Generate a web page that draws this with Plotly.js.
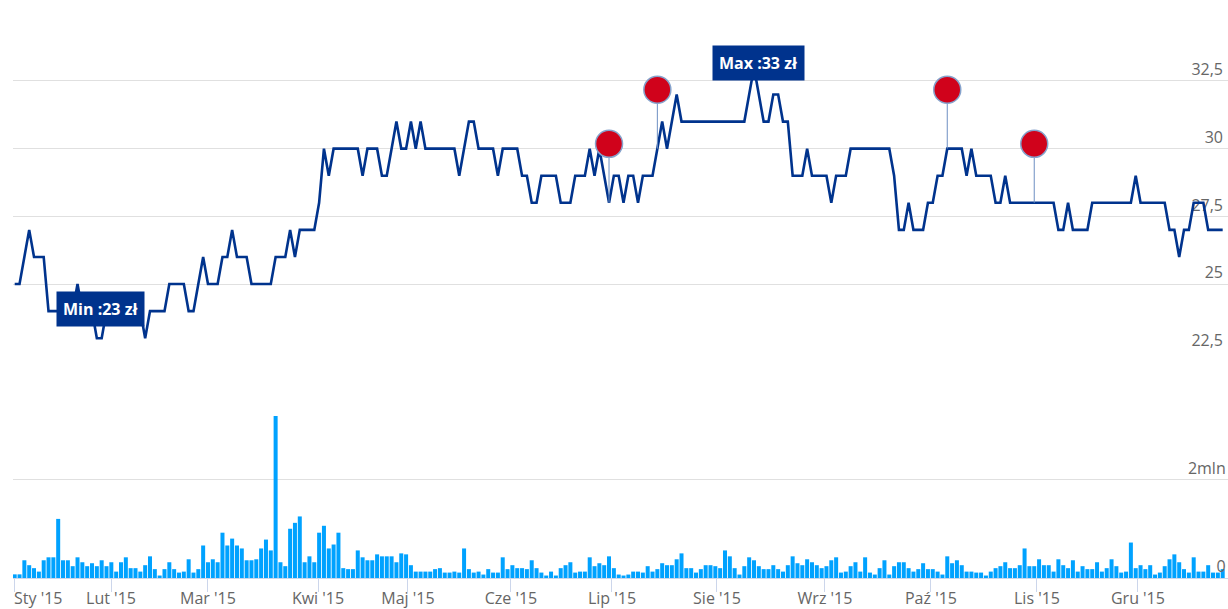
<!DOCTYPE html>
<html>
<head>
<meta charset="utf-8">
<script src="https://cdn.plot.ly/plotly-3.0.1.min.js"></script>
<style>
html,body{margin:0;padding:0;background:#fff;}
#chart{width:1228px;height:609px;}
</style>
</head>
<body>
<div id="chart"></div>
<script>
// ---- data (one value per trading day of 2015, in order) ----
const monthLabels = ["Sty '15","Lut '15","Mar '15","Kwi '15","Maj '15","Cze '15","Lip '15","Sie '15","Wrz '15","Paź '15","Lis '15","Gru '15"];
const monthTickPos = [0.06, 19.93, 40.0, 62.77, 81.38, 102.71, 123.61, 145.34, 167.69, 189.63, 211.57, 232.46];

const price = [
  25,25,26,27,26,26,26,24,24,24,
  24,24,24,25,24,24,24,23,23,24,
  24,24,24,24,24,24,24,23,24,24,
  24,24,25,25,25,25,24,24,25,26,
  25,25,25,26,26,27,26,26,26,25,
  25,25,25,25,26,26,26,27,26,27,
  27,27,27,28,30,29,30,30,30,30,
  30,30,29,30,30,30,29,29,30,31,
  30,30,31,30,31,30,30,30,30,30,
  30,30,29,30,31,31,30,30,30,30,
  29,30,30,30,30,29,29,28,28,29,
  29,29,29,28,28,28,29,29,29,30,
  29,30,29,28,29,29,28,29,29,28,
  29,29,29,30,31,30,31,32,31,31,
  31,31,31,31,31,31,31,31,31,31,
  31,31,32,33,32,31,31,32,32,31,
  31,29,29,29,30,29,29,29,29,28,
  29,29,29,30,30,30,30,30,30,30,
  30,30,29,27,27,28,27,27,27,28,
  28,29,29,30,30,30,30,29,30,29,
  29,29,29,28,28,29,28,28,28,28,
  28,28,28,28,28,28,27,27,28,27,
  27,27,27,28,28,28,28,28,28,28,
  28,28,29,28,28,28,28,28,28,27,
  27,26,27,27,28,28,28,27,27,27,
  27
];

// volume in millions of shares
const volumeMln = [
  0.074,0.074,0.36,0.26,0.2,0.13,0.36,0.42,0.42,1.2,
  0.36,0.36,0.24,0.42,0.32,0.24,0.3,0.24,0.36,0.24,
  0.32,0.13,0.32,0.42,0.2,0.2,0.13,0.26,0.44,0.18,
  0.05,0.18,0.32,0.18,0.11,0.13,0.38,0.11,0.18,0.66,
  0.32,0.38,0.32,0.92,0.66,0.8,0.66,0.6,0.36,0.36,
  0.38,0.6,0.78,0.56,3.29,0.32,0.24,1.0,1.12,1.25,
  0.32,0.44,0.32,0.92,1.06,0.6,0.68,0.92,0.2,0.18,
  0.18,0.56,0.42,0.36,0.36,0.48,0.44,0.44,0.44,0.32,
  0.5,0.48,0.26,0.13,0.13,0.13,0.13,0.18,0.2,0.11,
  0.11,0.13,0.11,0.6,0.18,0.11,0.13,0.07,0.18,0.11,
  0.11,0.42,0.18,0.26,0.2,0.2,0.18,0.36,0.2,0.11,
  0.05,0.13,0.05,0.2,0.26,0.32,0.11,0.13,0.13,0.42,
  0.24,0.3,0.26,0.44,0.2,0.07,0.05,0.07,0.13,0.13,
  0.11,0.24,0.13,0.18,0.3,0.26,0.26,0.38,0.5,0.2,
  0.2,0.11,0.18,0.26,0.26,0.24,0.2,0.56,0.44,0.2,
  0.07,0.24,0.42,0.36,0.24,0.18,0.18,0.26,0.18,0.13,
  0.26,0.44,0.3,0.26,0.38,0.32,0.26,0.2,0.24,0.36,
  0.42,0.11,0.13,0.24,0.32,0.13,0.42,0.11,0.07,0.2,
  0.36,0.07,0.24,0.32,0.32,0.2,0.13,0.18,0.3,0.18,
  0.18,0.13,0.07,0.44,0.3,0.36,0.26,0.13,0.13,0.11,
  0.11,0.05,0.13,0.2,0.24,0.32,0.2,0.2,0.26,0.6,
  0.24,0.24,0.38,0.26,0.26,0.13,0.38,0.26,0.2,0.36,
  0.13,0.24,0.18,0.18,0.32,0.13,0.2,0.38,0.24,0.11,
  0.13,0.72,0.2,0.26,0.18,0.26,0.07,0.11,0.24,0.38,
  0.48,0.32,0.18,0.11,0.42,0.13,0.13,0.26,0.11,0.11,
  0.18
];

const flagIdx = [123, 133, 193, 211];

const priceTicks = [22.5, 25, 27.5, 30, 32.5, 35];
const volumeTicks = [0, 2, 4];
const volumeTickText = ['0', '2mln', ''];

// ---- layout constants ----
const W = 1228, H = 609;
const M = {l: 13, r: 0, t: 13, b: 31};
const plotH = H - M.t - M.b;
const priceDomain = [0.4, 1];
const volDomain = [0, 198 / plotH];
const priceRange = [22.49, 35.01];
const volRange = [0, 4.02];
const xRange = [-0.352, 251.1];

const LINE = '#00338d';
const BAR = '#00a2ff';
const GRID = '#e0e0e0';
const LABEL = '#666666';
const FONT = 'Open Sans, Noto Sans, sans-serif';
const TICK_SIZE = 16;

const idx = price.map((_, i) => i);
const plPrice = v => String(v).replace('.', ',');

const pxPerPrice = (priceDomain[1] - priceDomain[0]) * plotH / (priceRange[1] - priceRange[0]);
const flagLift = 59 / pxPerPrice;

const stemX = [], stemY = [];
flagIdx.forEach(i => { stemX.push(i, i, null); stemY.push(price[i], price[i] + flagLift, null); });

const minVal = Math.min(...price), maxVal = Math.max(...price);
const minI = price.indexOf(minVal), maxI = price.indexOf(maxVal);

const traces = [
  {type: 'bar', x: idx, y: volumeMln, xaxis: 'x', yaxis: 'y2',
   marker: {color: BAR, line: {width: 0}}, hoverinfo: 'skip'},
  {type: 'scatter', mode: 'lines', x: idx, y: price, xaxis: 'x', yaxis: 'y',
   line: {color: LINE, width: 2.6}, hoverinfo: 'skip'},
  {type: 'scatter', mode: 'lines', x: stemX, y: stemY, xaxis: 'x', yaxis: 'y',
   line: {color: '#6d8fc2', width: 1}, hoverinfo: 'skip', connectgaps: false},
  {type: 'scatter', mode: 'markers', x: flagIdx, y: flagIdx.map(i => price[i] + flagLift),
   xaxis: 'x', yaxis: 'y', cliponaxis: false,
   marker: {size: 27, color: '#d0021b', line: {color: '#86a3cc', width: 1.5}}, hoverinfo: 'skip'}
];

const boxFont = {family: FONT, size: 16, color: '#ffffff', weight: 700};
const tickFont = {family: FONT, size: TICK_SIZE, color: LABEL};

const layout = {
  width: W, height: H,
  margin: M,
  paper_bgcolor: '#ffffff', plot_bgcolor: '#ffffff',
  showlegend: false,
  hovermode: false,
  bargap: 0.17,
  font: {family: FONT, size: TICK_SIZE, color: LABEL},
  xaxis: {
    range: xRange, anchor: 'y2', showgrid: false, zeroline: false,
    showline: true, linecolor: '#ccd6eb', linewidth: 1,
    ticks: 'outside', ticklen: 13, tickcolor: '#ccd6eb', tickwidth: 1,
    tickmode: 'array', tickvals: monthTickPos,
    ticktext: monthLabels.map((t, k) => k === 0 ? '' : t),
    ticklabelstandoff: -7,
    tickfont: tickFont,
    fixedrange: true
  },
  yaxis: {
    domain: priceDomain, range: priceRange, anchor: 'x', side: 'right',
    tickmode: 'array', tickvals: priceTicks,
    ticktext: priceTicks.map((v, k) => k === priceTicks.length - 1 ? '' : plPrice(v)),
    ticklabelposition: 'inside top', ticks: '', ticklabelstandoff: 2,
    showgrid: true, gridcolor: GRID, gridwidth: 1, zeroline: false, showline: false,
    tickfont: tickFont,
    layer: 'below traces', fixedrange: true
  },
  yaxis2: {
    domain: volDomain, range: volRange, anchor: 'x', side: 'right',
    tickmode: 'array', tickvals: volumeTicks, ticktext: volumeTickText,
    ticklabelposition: 'inside top', ticks: '', ticklabelstandoff: 2,
    showgrid: true, gridcolor: GRID, gridwidth: 1, zeroline: false,
    showline: true, linecolor: GRID, linewidth: 1,
    tickfont: tickFont,
    fixedrange: true
  },
  annotations: [
    {xref: 'paper', yref: 'paper', x: 0, y: -20 / plotH, xanchor: 'left', yanchor: 'middle',
     text: monthLabels[0], showarrow: false, borderpad: 0, font: tickFont},
    {xref: 'x', yref: 'y', x: minI, y: minVal, xanchor: 'center', yanchor: 'middle',
     xshift: 4, yshift: 29, text: 'Min :' + plPrice(minVal) + ' zł', showarrow: false,
     bgcolor: LINE, borderpad: 6, font: boxFont},
    {xref: 'x', yref: 'y', x: maxI, y: maxVal, xanchor: 'center', yanchor: 'middle',
     xshift: 4.5, yshift: 4, text: 'Max :' + plPrice(maxVal) + ' zł', showarrow: false,
     bgcolor: LINE, borderpad: 6, font: boxFont}
  ]
};

Plotly.newPlot('chart', traces, layout, {displayModeBar: false, staticPlot: true});
</script>
</body>
</html>
